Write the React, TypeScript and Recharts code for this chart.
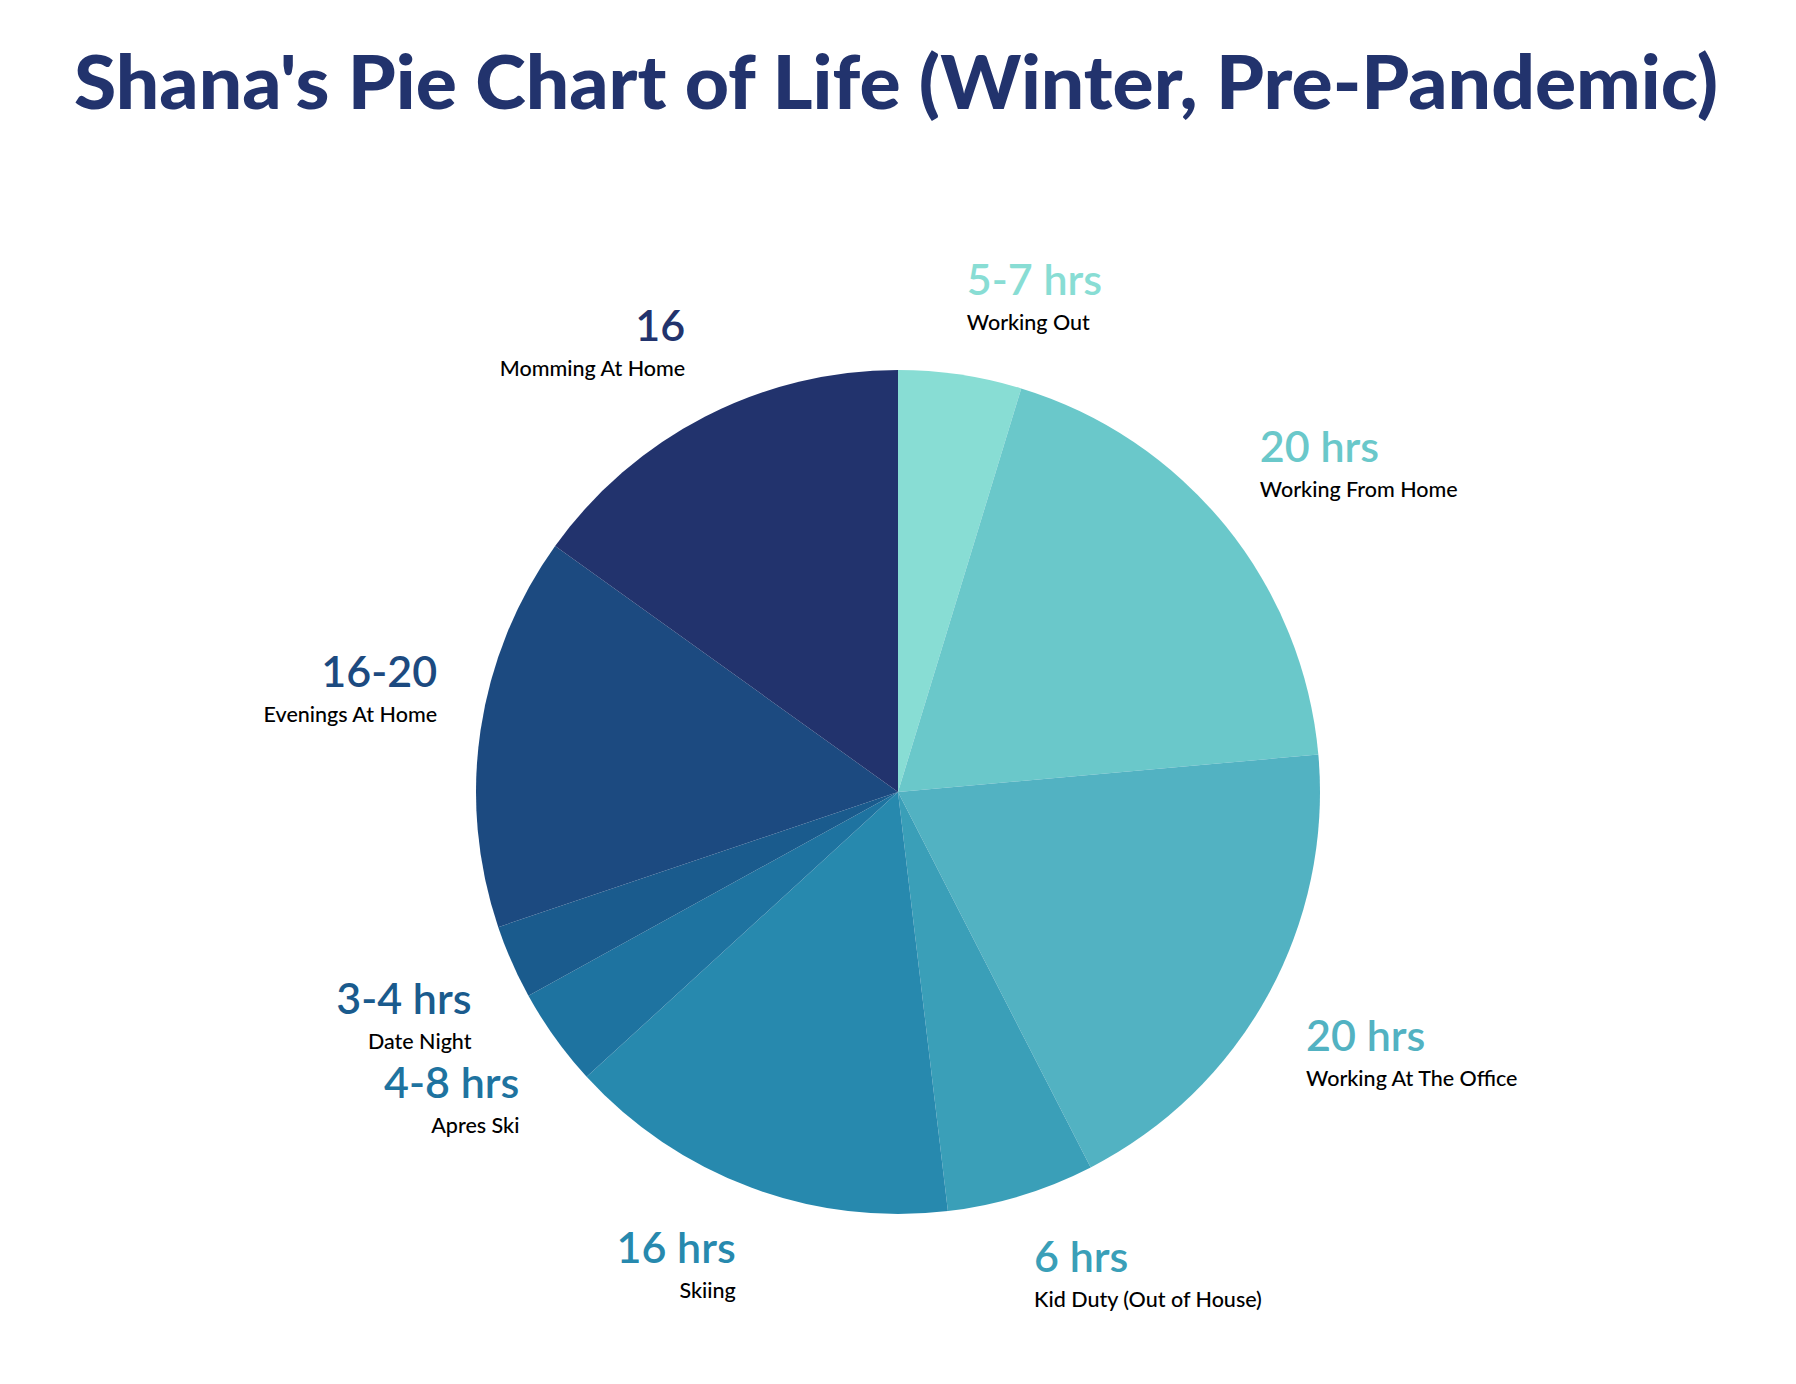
import { PieChart, Pie, Cell } from 'recharts';

// slices go clockwise from 12 o'clock
const categories = [
  'Working Out',
  'Working From Home',
  'Working At The Office',
  'Kid Duty (Out of House)',
  'Skiing',
  'Apres Ski',
  'Date Night',
  'Evenings At Home',
  'Momming At Home',
];
const hours = [5, 20, 20, 6, 16, 4, 3, 16, 16];
const hourLabels = ['5-7 hrs', '20 hrs', '20 hrs', '6 hrs', '16 hrs', '4-8 hrs', '3-4 hrs', '16-20', '16'];
const colors = ['#88DDD4', '#6AC8CA', '#52B2C2', '#3A9FB8', '#2789AE', '#1E73A0', '#1A5B8D', '#1C4A80', '#22336D'];

const data = categories.map((name, i) => ({ name, hours: hours[i], label: hourLabels[i] }));

const W = 1780;
const H = 1368;
const FONT = 'Lato, "Noto Sans", sans-serif';
const RAD = Math.PI / 180;

function renderLabel(props: any) {
  const { cx, cy, midAngle, outerRadius, index } = props;
  const r = outerRadius + 44;
  const x = cx + r * Math.cos(-midAngle * RAD);
  const y = cy + r * Math.sin(-midAngle * RAD);
  const anchor = x > cx ? 'start' : 'end';
  // label block sits outward of the anchor point
  const upper = y < cy;
  const numY = upper ? y - 36 : y + 34;
  const nameY = upper ? y - 1 : y + 69;
  return (
    <g key={`lbl-${index}`}>
      <text x={x} y={numY} textAnchor={anchor} fill={colors[index]} fontFamily={FONT} fontSize={43} fontWeight={600}>
        {hourLabels[index]}
      </text>
      <text x={x} y={nameY} textAnchor={anchor} fill="#000" fontFamily={FONT} fontSize={21.5} fontWeight={500}>
        {categories[index]}
      </text>
    </g>
  );
}

export default function App() {
  return (
    <div style={{ position: 'relative', width: W, height: H, background: '#fff' }}>
      <PieChart width={W} height={H} margin={{ top: 0, right: 0, bottom: 0, left: 0 }}>
        <Pie
          data={data}
          dataKey="hours"
          nameKey="name"
          cx={890}
          cy={784}
          outerRadius={422}
          startAngle={90}
          endAngle={-270}
          stroke="none"
          label={renderLabel}
          labelLine={false}
          isAnimationActive={false}
        >
          {data.map((d, i) => (
            <Cell key={d.name} fill={colors[i]} stroke="none" />
          ))}
        </Pie>
      </PieChart>
      <svg width={W} height={140} style={{ position: 'absolute', left: 0, top: 0 }}>
        <text
          x={888}
          y={101}
          textAnchor="middle"
          fill="#22336D"
          fontFamily={FONT}
          fontSize={74}
          fontWeight={900}
          textLength={1644}
          lengthAdjust="spacingAndGlyphs"
        >
          Shana's Pie Chart of Life (Winter, Pre-Pandemic)
        </text>
      </svg>
    </div>
  );
}
